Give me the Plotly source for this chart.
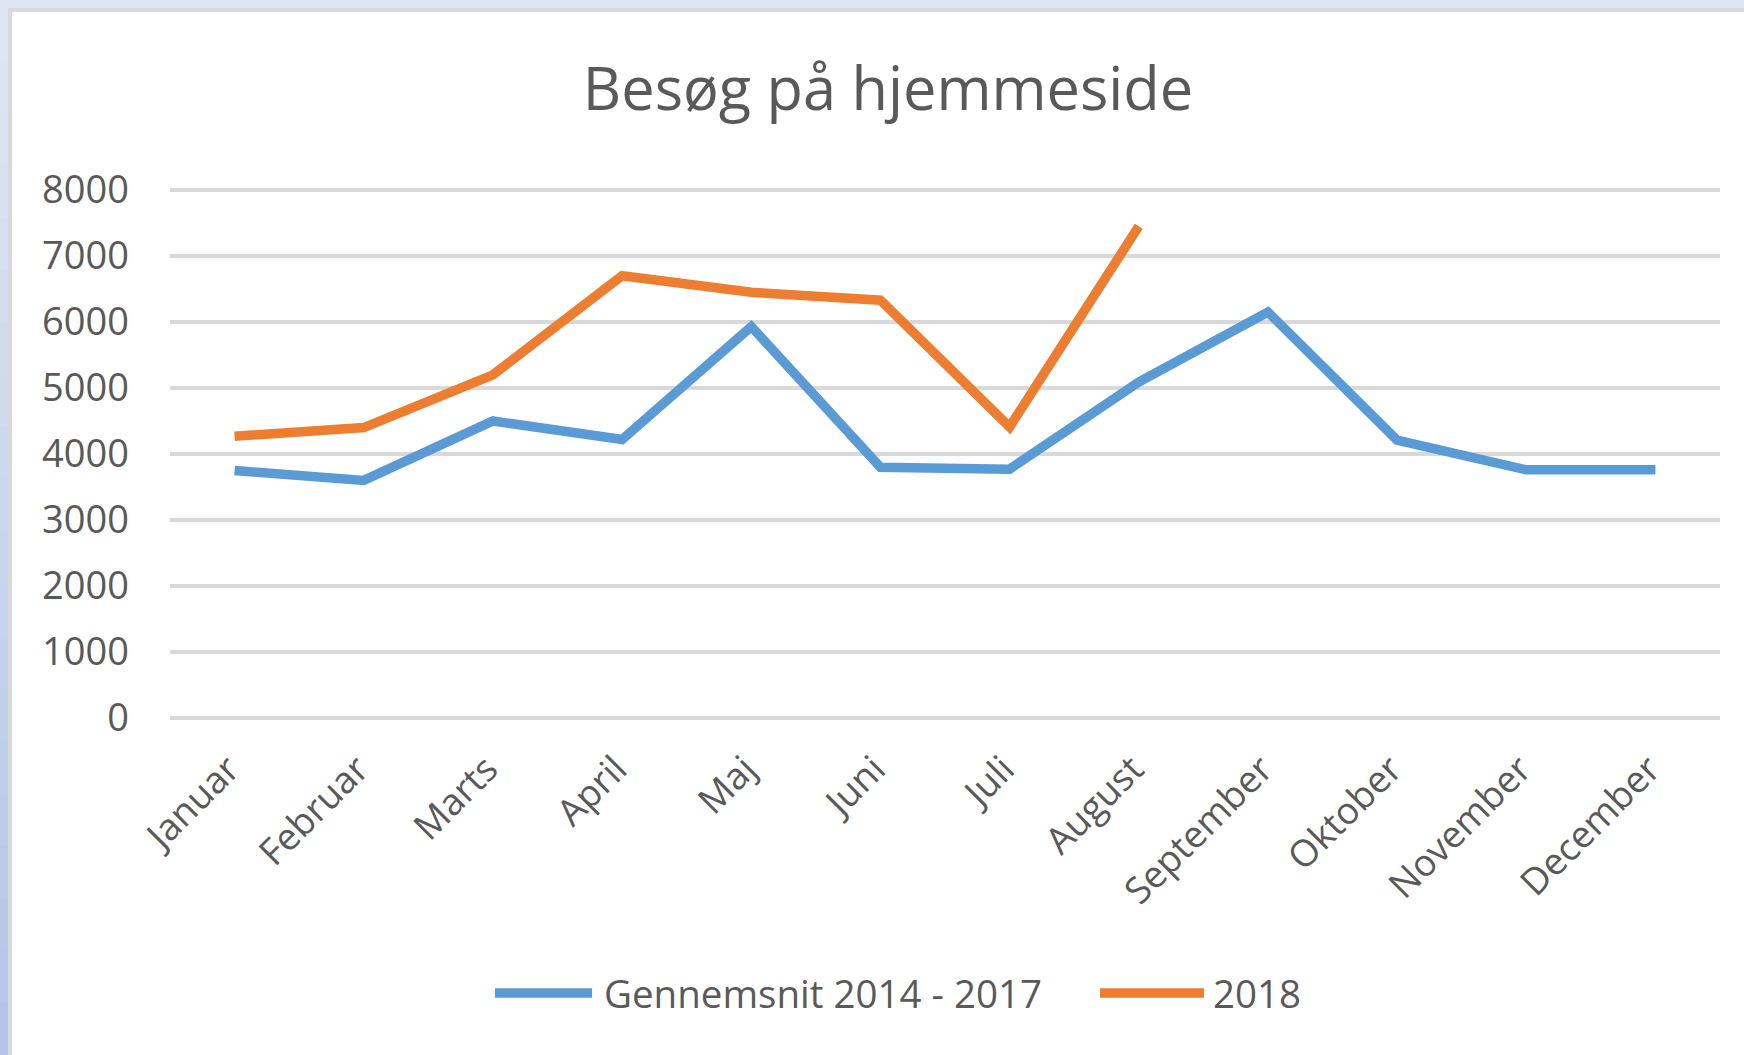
import plotly.graph_objects as go

# ---- data ----
months = ["Januar", "Februar", "Marts", "April", "Maj", "Juni", "Juli",
          "August", "September", "Oktober", "November", "December"]
avg_name = "Gennemsnit 2014 - 2017"
avg_values = [3750, 3600, 4500, 4220, 5930, 3800, 3770, 5090, 6150, 4210, 3760, 3760]
y2018_name = "2018"
y2018_values = [4270, 4400, 5200, 6700, 6450, 6330, 4410, 7450]
y_ticks = [0, 1000, 2000, 3000, 4000, 5000, 6000, 7000, 8000]

# ---- styling ----
W, H = 1744, 1055
PL, PR = 170, 1720          # plot area x in px
Y_TOP_TICK_PX, PB = 190, 718  # pixel of top tick (8000) and of 0
PT = 182                    # plot area top (a bit above top gridline so it is drawn)
BLUE = "#5B9BD5"
ORANGE = "#ED7D31"
TEXT = "#595959"
GRID = "#D9D9D9"
FONT = "Open Sans, Liberation Sans, Arial, sans-serif"

y_max = y_ticks[-1] * (PB - PT) / (PB - Y_TOP_TICK_PX)


def px_x(px):
    return (px - PL) / (PR - PL)


def px_y(py):
    return (PB - py) / (PB - PT)


fig = go.Figure()
fig.add_trace(go.Scatter(x=months, y=avg_values, mode="lines", name=avg_name,
                         line=dict(color=BLUE, width=9.5), showlegend=False))
fig.add_trace(go.Scatter(x=months[:len(y2018_values)], y=y2018_values, mode="lines",
                         name=y2018_name, line=dict(color=ORANGE, width=9.5),
                         showlegend=False))

shapes = []
# window-like frame: light blue band at top and left, grey inner border
shapes.append(dict(type="rect", xref="paper", yref="paper", x0=px_x(0), x1=px_x(W),
                   y0=px_y(8), y1=px_y(0), fillcolor="#DFE6F3", line_width=0, layer="below"))
nseg = 20
c0 = (0xDF, 0xE6, 0xF3)
c1 = (0xB4, 0xC6, 0xE7)
for i in range(nseg):
    t = i / (nseg - 1)
    col = "rgb(%d,%d,%d)" % tuple(int(a + (b - a) * t) for a, b in zip(c0, c1))
    y0p = 8 + (H - 8) * i / nseg
    y1p = 8 + (H - 8) * (i + 1) / nseg
    shapes.append(dict(type="rect", xref="paper", yref="paper", x0=px_x(0), x1=px_x(8),
                       y0=px_y(y1p + 1), y1=px_y(y0p), fillcolor=col, line_width=0,
                       layer="below"))
shapes.append(dict(type="rect", xref="paper", yref="paper", x0=px_x(8), x1=px_x(W),
                   y0=px_y(12), y1=px_y(8), fillcolor=GRID, line_width=0, layer="below"))
shapes.append(dict(type="rect", xref="paper", yref="paper", x0=px_x(8), x1=px_x(12),
                   y0=px_y(H), y1=px_y(8), fillcolor=GRID, line_width=0, layer="below"))

# custom legend (long line samples as in the original)
leg_y = px_y(993)
legend_items = [(avg_name, BLUE, 495, 592, 602), (y2018_name, ORANGE, 1100, 1204, 1211)]
annotations = []
for name, col, lx0, lx1, tx in legend_items:
    shapes.append(dict(type="line", xref="paper", yref="paper", x0=px_x(lx0), x1=px_x(lx1),
                       y0=leg_y, y1=leg_y, line=dict(color=col, width=9.5)))
    annotations.append(dict(text=name, xref="paper", yref="paper", x=px_x(tx), y=leg_y,
                            xanchor="left", yanchor="middle", showarrow=False,
                            font=dict(family=FONT, size=38.5, color=TEXT)))

fig.update_layout(
    width=W, height=H,
    margin=dict(l=PL, r=W - PR, t=PT, b=H - PB, pad=0),
    paper_bgcolor="white", plot_bgcolor="white",
    title=dict(text="Besøg på hjemmeside", x=888 / W, xref="container", xanchor="center",
               y=1 - 89 / H, yref="container", yanchor="middle",
               font=dict(family=FONT, size=59.5, color=TEXT)),
    shapes=shapes, annotations=annotations,
    showlegend=False,
    font=dict(family=FONT, color=TEXT),
)
fig.update_xaxes(type="category", range=[-0.5, len(months) - 0.5], showgrid=False,
                 zeroline=False, showline=False, ticks="", tickangle=-45,
                 tickfont=dict(family=FONT, size=37, color=TEXT), ticklabelstandoff=21,
                 ticklabelshift=-6)
fig.update_yaxes(range=[0, y_max], tickvals=y_ticks, showgrid=True, gridcolor=GRID,
                 gridwidth=3.5, zeroline=True, zerolinecolor=GRID, zerolinewidth=3.5,
                 showline=False, ticks="", tickfont=dict(family=FONT, size=38, color=TEXT),
                 ticklabelstandoff=40)

fig.write_html("out.html", config={"displayModeBar": False},
               post_script="document.body.style.margin='0';")
